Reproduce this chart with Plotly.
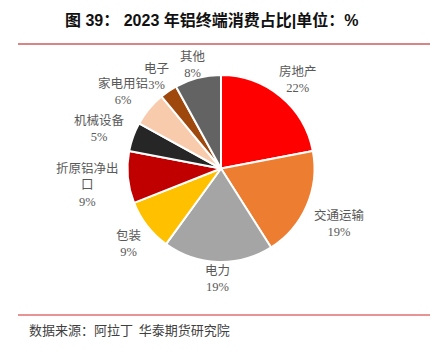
import math
import plotly.graph_objects as go

categories = ["房地产", "交通运输", "电力", "包装", "折原铝净出口", "机械设备", "家电用铝", "电子", "其他"]
display_labels = ["房地产", "交通运输", "电力", "包装", "折原铝净出<br>口", "机械设备", "家电用铝", "电子", "其他"]
values = [22, 19, 19, 9, 9, 5, 6, 3, 8]
colors = ["#FF0000", "#ED7D31", "#A5A5A5", "#FFC000", "#C00000", "#262626", "#F8CBAD", "#9E480E", "#636363"]

title_text = "图 39： 2023 年铝终端消费占比|单位：%"
source_text = "数据来源：阿拉丁  华泰期货研究院"

W, H = 442, 352
cx, cy, r = 221, 168.5, 93.5
label_size = 12.5
gap_x, gap_y = 8, 0
label_dy = 4

fig = go.Figure(go.Pie(
    labels=categories,
    values=values,
    sort=False,
    direction="clockwise",
    rotation=0,
    marker=dict(colors=colors, line=dict(color="white", width=2)),
    textinfo="none",
    showlegend=False,
    hoverinfo="label+value",
    domain=dict(x=[(cx - r) / W, (cx + r) / W], y=[(H - cy - r) / H, (H - cy + r) / H]),
))

annotations = []
total = sum(values)
cum = 0
for lab, v in zip(display_labels, values):
    mid = (cum + v / 2) / total * 2 * math.pi
    cum += v
    lines = lab.split("<br>") + [f"{v}%"]
    bw = max(len(s) if not s.endswith("%") else len(s) * 0.5 for s in lines) * label_size
    bh = len(lines) * label_size
    s, c = math.sin(mid), math.cos(mid)
    d = r + gap_x * abs(s) + gap_y * abs(c) + abs(s) * bw / 2 + abs(c) * bh / 2
    lx = cx + d * s
    ly = cy - d * c + label_dy
    annotations.append(dict(
        text=lab + "<br>" + f"{v}%", xref="paper", yref="paper",
        x=lx / W, y=1 - ly / H, xanchor="center", yanchor="middle", showarrow=False,
        align="center",
        font=dict(family="Liberation Serif, Noto Sans CJK SC", size=label_size, color="#595959"),
    ))

annotations += [
    dict(text="<b>" + title_text + "</b>", xref="paper", yref="paper",
         x=211.5 / W, y=1 - 20 / H, xanchor="center", yanchor="middle", showarrow=False,
         font=dict(family="Liberation Sans, Noto Sans CJK SC", size=16, color="#111111")),
    dict(text=source_text, xref="paper", yref="paper",
         x=27 / W, y=1 - 329 / H, xanchor="left", yanchor="middle", showarrow=False,
         font=dict(family="Noto Sans CJK SC", size=13, color="#404040")),
]

fig.update_layout(
    width=W, height=H,
    margin=dict(l=0, r=0, t=0, b=0),
    paper_bgcolor="white",
    plot_bgcolor="white",
    shapes=[
        dict(type="line", xref="paper", yref="paper", x0=18 / W, x1=430 / W,
             y0=1 - 44 / H, y1=1 - 44 / H, line=dict(color="#D98585", width=2)),
        dict(type="line", xref="paper", yref="paper", x0=18 / W, x1=430 / W,
             y0=1 - 315 / H, y1=1 - 315 / H, line=dict(color="#E07070", width=1.5)),
    ],
    annotations=annotations,
)

fig.write_html("out.html")
